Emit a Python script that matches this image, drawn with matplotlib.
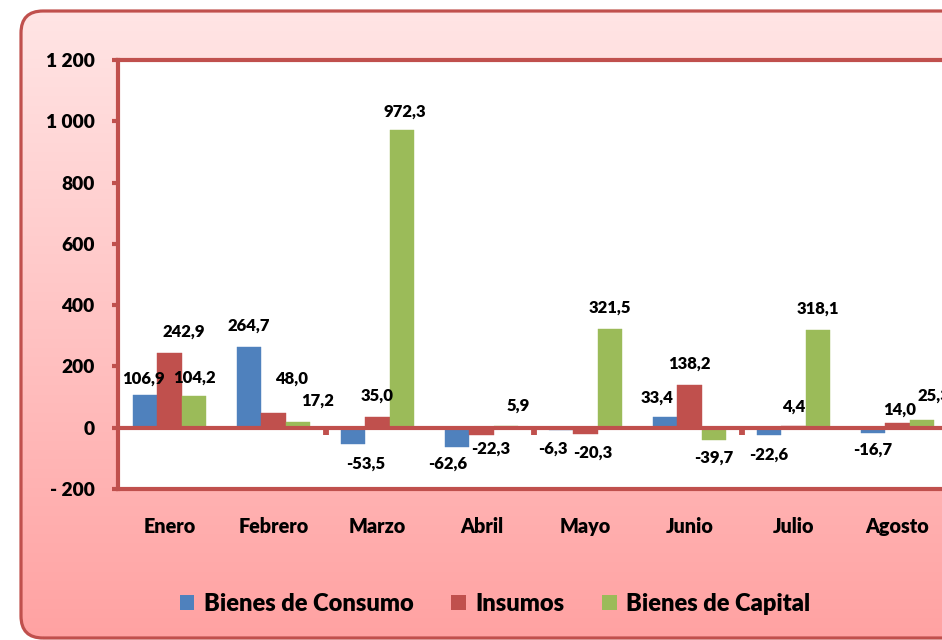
import numpy as np
import matplotlib
matplotlib.use("Agg")
import matplotlib.pyplot as plt
from matplotlib.patches import FancyBboxPatch, Rectangle

plt.rcParams['font.family'] = ['Lato', 'DejaVu Sans']
WEIGHT = 'heavy'
plt.rcParams['font.weight'] = WEIGHT

# ---- data ----
months = ["Enero", "Febrero", "Marzo", "Abril", "Mayo", "Junio", "Julio", "Agosto"]
series_names = ["Bienes de Consumo", "Insumos", "Bienes de Capital"]
consumo = [106.9, 264.7, -53.5, -62.6, -6.3, 33.4, -22.6, -16.7]
insumos = [242.9, 48.0, 35.0, -22.3, -20.3, 138.2, 4.4, 14.0]
capital = [104.2, 17.2, 972.3, 5.9, 321.5, -39.7, 318.1, 25.3]
y_ticks = [-200, 0, 200, 400, 600, 800, 1000, 1200]

# ---- style ----
colors = ["#4F81BD", "#C0504D", "#9BBB59"]
frame_red = "#C0504D"
# label nudges in pixels (dx, extra dy) to mimic manual label placement
nudge_dx = [[-2, 0, 13, -9, -8, -8, 0, 0],
            [14, 18, 0, 9, 7, 0, 0, 2],
            [0, 20, 3, 12, 0, 0, 0, 12]]
nudge_dy = [[-4, 1, 0, -3, -1, 0, 0, -3],
            [2, 14, 1, -6, -1, 2, 0, -6],
            [-2, 2, -2, 0, 2, -2, 2, 4]]

W, H = 942, 640
fig = plt.figure(figsize=(W / 100, H / 100), dpi=100)
fig.patch.set_facecolor("white")

# background rounded box with gradient
bg = fig.add_axes([0, 0, 1, 1], zorder=-5)
bg.set_xlim(0, W)
bg.set_ylim(0, H)
bg.axis("off")
box = FancyBboxPatch((21, 2), 955, 627, boxstyle="round,pad=0,rounding_size=22",
                     facecolor="none", edgecolor=frame_red, linewidth=2.3, zorder=3)
bg.add_patch(box)
top_c = np.array([255, 229, 229]) / 255
bot_c = np.array([255, 162, 162]) / 255
t = np.linspace(0, 1, 256)[:, None]
grad = (top_c[None, None, :] * (1 - t[:, :, None]) + bot_c[None, None, :] * t[:, :, None])
grad = np.repeat(grad, 2, axis=1)
im = bg.imshow(grad, extent=(21, 976, 2, 629), aspect="auto", origin="upper", zorder=1)
clip = FancyBboxPatch((21, 2), 955, 627, boxstyle="round,pad=0,rounding_size=22",
                      facecolor="none", edgecolor="none", transform=bg.transData)
bg.add_patch(clip)
im.set_clip_path(clip)

# main axes
ax_left, ax_right = 117.5, 949.5
ax_top, ax_bot = 60, 489
ax = fig.add_axes([ax_left / W, (H - ax_bot) / H, (ax_right - ax_left) / W, (ax_bot - ax_top) / H])
ax.set_facecolor("white")

x = np.arange(len(months))
bw = 0.235
all_series = [consumo, insumos, capital]
ymin, ymax = -200, 1200
ax.set_xlim(-0.5, len(months) - 0.5)
ax.set_ylim(ymin, ymax)
px_per_unit = (ax_bot - ax_top) / (ymax - ymin)

for k, (vals, col) in enumerate(zip(all_series, colors)):
    xs = x + (k - 1) * bw
    ax.bar(xs, vals, width=bw, color=col, zorder=2, edgecolor=col, linewidth=0.3)
    for i, (xx, v) in enumerate(zip(xs, vals)):
        sign = 1 if v >= 0 else -1
        ax.annotate(f"{v:.1f}".replace(".", ","), xy=(xx, v),
                    xytext=(nudge_dx[k][i], sign * 20 + nudge_dy[k][i] * (1 if sign > 0 else -1)),
                    textcoords="offset pixels", ha="center", va="center",
                    fontsize=12, fontweight=WEIGHT, color="black", zorder=5)

# zero line with category-axis tick marks
ax.axhline(0, color=frame_red, linewidth=3.0, zorder=4)
tick_len = 7 / px_per_unit
ax.vlines(x[1::2][:-1] + 0.5, 0, -tick_len, color=frame_red, linewidth=4.2, zorder=4)

for s in ax.spines.values():
    s.set_color(frame_red)
    s.set_linewidth(3.0)
    s.set_zorder(6)

ax.set_yticks(y_ticks)
def fmt(v):
    s = f"{abs(v):,.0f}".replace(",", " ")
    return ("- " + s) if v < 0 else s
ax.set_yticklabels([fmt(v) for v in y_ticks])
ax.tick_params(axis="y", direction="out", length=4.5, width=3.0, color=frame_red,
               pad=12, labelsize=13.8, labelcolor="black")
ax.set_xticks(x)
ax.set_xticklabels(months)
ax.tick_params(axis="x", length=0, pad=20, labelsize=14.2, labelcolor="black")
for lab in ax.get_xticklabels() + ax.get_yticklabels():
    lab.set_fontweight(WEIGHT)

handles = [Rectangle((0, 0), 1, 1, facecolor=c, edgecolor="none") for c in colors]
leg = fig.legend(handles, series_names, loc="center", bbox_to_anchor=(495 / W, 36 / H),
                 ncol=3, frameon=False, handlelength=0.62, handleheight=0.62,
                 handletextpad=0.4, columnspacing=1.6, prop={"weight": WEIGHT, "size": 17})

fig.savefig("out.png", dpi=100)
